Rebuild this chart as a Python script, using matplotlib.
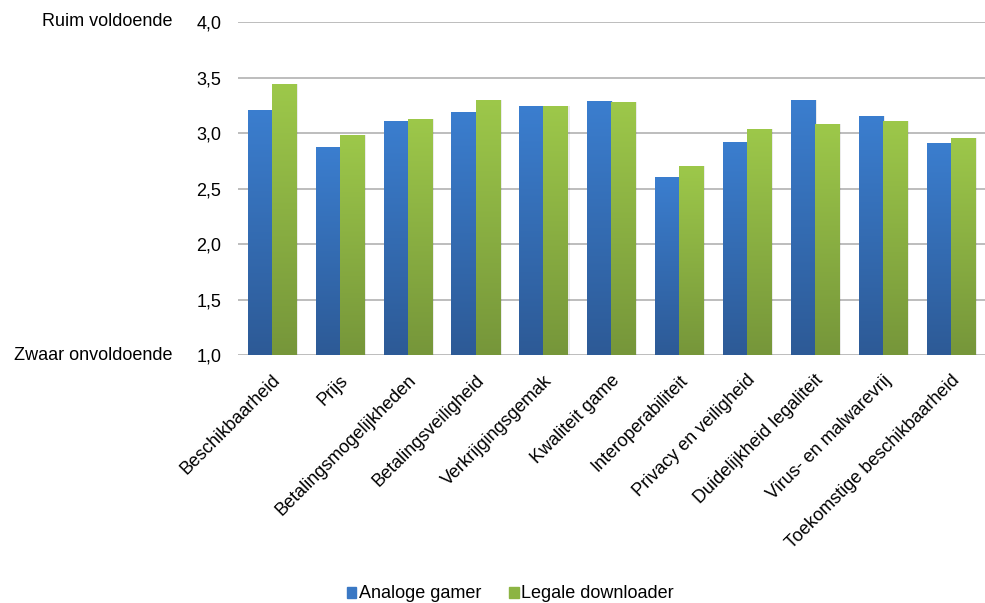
import numpy as np
import matplotlib
matplotlib.use('Agg')
import matplotlib.pyplot as plt
from matplotlib.ticker import FuncFormatter, MultipleLocator
from matplotlib.colors import LinearSegmentedColormap

plt.rcParams['font.family'] = ['Liberation Sans', 'DejaVu Sans']

# data
categories = ['Beschikbaarheid', 'Prijs', 'Betalingsmogelijkheden', 'Betalingsveiligheid',
              'Verkrijgingsgemak', 'Kwaliteit game', 'Interoperabiliteit', 'Privacy en veiligheid',
              'Duidelijkheid legaliteit', 'Virus- en malwarevrij', 'Toekomstige beschikbaarheid']
analoge_gamer = [3.21, 2.87, 3.11, 3.19, 3.24, 3.29, 2.60, 2.92, 3.30, 3.15, 2.91]
legale_downloader = [3.44, 2.98, 3.13, 3.30, 3.24, 3.28, 2.70, 3.04, 3.08, 3.11, 2.96]
series_names = ['Analoge gamer', 'Legale downloader']

# gradients (bottom colour, top colour)
blue_cmap = LinearSegmentedColormap.from_list('b', ['#2d5a96', '#3b7ecf'])
green_cmap = LinearSegmentedColormap.from_list('g', ['#76963a', '#9dc84a'])

fig = plt.figure(figsize=(9.85, 6.03), dpi=100)
ax = fig.add_axes([0.2416, 0.411, 0.758, 0.5525])

x = np.arange(len(categories))
w = 0.355
ymin, ymax = 1.0, 4.0

# grid and axes
ax.yaxis.set_major_locator(MultipleLocator(0.5))
ax.yaxis.set_major_formatter(FuncFormatter(lambda v, p: f'{v:.1f}'.replace('.', ',')))
ax.grid(axis='y', color='#bdbdbd', linewidth=1.4)
ax.set_axisbelow(True)
for s in ax.spines.values():
    s.set_visible(False)
ax.tick_params(axis='y', length=0, pad=12, labelsize=13)
ax.tick_params(axis='x', length=0, pad=12, labelsize=13)

grad = np.linspace(0, 1, 256).reshape(-1, 1)


def gradient_bars(xpos, vals, cmap):
    # invisible bars used as clip paths for gradient fills
    bars = ax.bar(xpos, np.array(vals) - ymin, width=w, bottom=ymin,
                  color='none', edgecolor='none', zorder=2)
    for b in bars:
        x0, y0 = b.get_x(), ymin
        x1, y1 = x0 + b.get_width(), ymin + b.get_height()
        # soft shadow
        ax.bar(x0 + b.get_width() / 2 + 0.03, y1 - y0, width=b.get_width(), bottom=y0,
               color='#000000', alpha=0.08, zorder=2)
        im = ax.imshow(grad, extent=[x0, x1, y0, y1], origin='lower', cmap=cmap,
                       aspect='auto', zorder=3)
        im.set_clip_path(b)
    return bars


gradient_bars(x - w / 2, analoge_gamer, blue_cmap)
gradient_bars(x + w / 2, legale_downloader, green_cmap)
ax.set_xlim(-0.5, len(categories) - 0.5)
ax.set_ylim(ymin, ymax)

ax.set_xticks(x)
ax.set_xticklabels(categories, rotation=45, ha='right', rotation_mode='anchor')

# labels left of the axis
fig.text(0.175, 1 - 22 / 603, 'Ruim voldoende', ha='right', va='center', fontsize=13)
fig.text(0.175, 1 - 355 / 603, 'Zwaar onvoldoende', ha='right', va='center', fontsize=13)

# legend
handles = [plt.Rectangle((0, 0), 1, 1, color='#3a78c4'),
           plt.Rectangle((0, 0), 1, 1, color='#8cb443')]
fig.legend(handles, series_names, loc='center', bbox_to_anchor=(0.518, 1 - 594 / 603),
           ncol=2, frameon=False, fontsize=13, handlelength=0.55, handleheight=0.55,
           handletextpad=0.15, columnspacing=1.5)

fig.savefig('out.png', dpi=100)
